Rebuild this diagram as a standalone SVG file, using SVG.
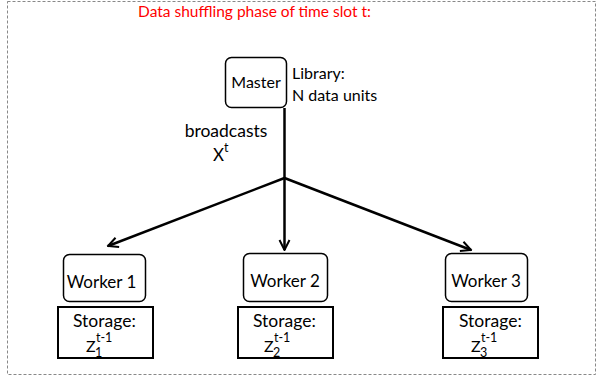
<svg xmlns="http://www.w3.org/2000/svg" width="597" height="382" viewBox="0 0 597 382">
<style>
text { font-family: Lato, "Open Sans", "Liberation Sans", sans-serif; fill: #000; }
.t { font-size: 16px; }
.w { font-size: 17px; }
.st { font-size: 17.5px; }
.z { font-size: 16px; }
.s { font-size: 12.5px; }
.title { font-size: 15.5px; fill: #ff0000; }
.node { fill: #fff; stroke: #000; stroke-width: 1.5; }
.store { fill: #fff; stroke: #000; stroke-width: 2; }
.conn { stroke: #000; stroke-width: 2.5; fill: none; }
</style>
<defs>
<marker id="arr" viewBox="0 0 10 10" refX="9" refY="5" markerWidth="5" markerHeight="5" orient="auto" markerUnits="strokeWidth">
<polyline points="1,1 9,5 1,9" fill="none" stroke="#000" stroke-width="1.6"/>
</marker>
</defs>
<rect x="0" y="0" width="597" height="382" fill="#fff"/>
<rect x="7.5" y="1.5" width="588" height="373" fill="none" stroke="#888" stroke-width="1" stroke-dasharray="3,2"/>
<text class="title" x="254.5" y="17" text-anchor="middle">Data shuffling phase of time slot t:</text>

<g id="connectors">
<line class="conn" x1="284.5" y1="108" x2="284.5" y2="178" stroke-width="3"/>
<line class="conn" x1="284.5" y1="178" x2="108" y2="246" marker-end="url(#arr)"/>
<line class="conn" x1="284.5" y1="178" x2="284.5" y2="250" marker-end="url(#arr)"/>
<line class="conn" x1="284.5" y1="178" x2="471" y2="250" marker-end="url(#arr)"/>
</g>

<g id="broadcast-label">
<text class="st" x="226" y="137" text-anchor="middle">broadcasts</text>
<text class="w" x="213" y="161">X</text>
<text class="s" x="224" y="152">t</text>
</g>

<g id="master">
<rect class="node" x="225.5" y="57.5" width="61" height="50" rx="6"/>
<text class="t" x="256" y="88" text-anchor="middle">Master</text>
</g>
<g id="library">
<text class="t" x="292" y="79">Library:</text>
<text class="t" x="292" y="101">N data units</text>
</g>

<g id="worker1">
<rect class="node" x="63.5" y="254.5" width="82" height="47" rx="6"/>
<text class="w" x="101.5" y="288" text-anchor="middle">Worker 1</text>
</g>
<g id="worker2">
<rect class="node" x="243.5" y="253.5" width="84" height="48" rx="6"/>
<text class="w" x="285" y="287" text-anchor="middle">Worker 2</text>
</g>
<g id="worker3">
<rect class="node" x="445.5" y="253.5" width="82" height="48" rx="6"/>
<text class="w" x="486" y="287" text-anchor="middle">Worker 3</text>
</g>

<g id="storage1">
<rect class="store" x="58" y="307" width="95" height="51"/>
<text class="st" x="73" y="327">Storage:</text>
<text class="z" x="86" y="352">Z</text>
<text class="s" x="95" y="357">1</text>
<text class="s" x="96" y="342">t-1</text>
</g>
<g id="storage2">
<rect class="store" x="238" y="307" width="95" height="51"/>
<text class="st" x="253" y="327">Storage:</text>
<text class="z" x="264" y="352">Z</text>
<text class="s" x="273" y="357">2</text>
<text class="s" x="274" y="342">t-1</text>
</g>
<g id="storage3">
<rect class="store" x="443" y="307" width="95" height="51"/>
<text class="st" x="459" y="327">Storage:</text>
<text class="z" x="471" y="352">Z</text>
<text class="s" x="480" y="357">3</text>
<text class="s" x="481" y="342">t-1</text>
</g>
</svg>
